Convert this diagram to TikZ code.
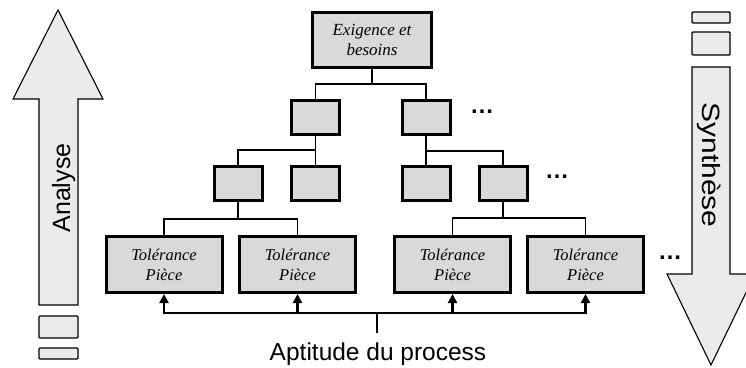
\documentclass[tikz,border=0pt]{standalone}
\usepackage{fontspec}
\setmainfont{Liberation Serif}
\setsansfont{Liberation Sans}
\usepackage{graphicx}
\usetikzlibrary{arrows.meta}
\definecolor{boxfill}{HTML}{D9D9D9}
\definecolor{arrfill}{HTML}{EBEBEB}
\begin{document}
\begin{tikzpicture}[x=1pt,y=-1pt,
  blk/.style={draw=black, fill=boxfill, line width=3pt, inner sep=0pt, minimum width=48pt, minimum height=34pt},
  tol/.style={blk, minimum width=116pt, minimum height=56pt, font=\fontsize{16.5}{20}\selectfont\itshape, align=center, text=black},
  link/.style={line width=1.5pt},
  bus/.style={line width=2.2pt},
  bigarrow/.style={draw=black, fill=arrfill, line width=1.1pt, line join=miter},
  tab/.style={draw=black, fill=arrfill, line width=1.4pt, rounded corners=1pt},
  dots/.style={font=\sffamily\bfseries\fontsize{24}{24}\selectfont, inner sep=0pt}]
\useasboundingbox (0,0) rectangle (746,367);

% big arrows
\draw[bigarrow] (58,10) -- (103,99) -- (78,99) -- (78,305) -- (39,305) -- (39,99) -- (13,99) -- cycle;
\draw[bigarrow] (692,67) -- (730,67) -- (730,274) -- (755,274) -- (711,365) -- (667,274) -- (692,274) -- cycle;
\node[font=\sffamily\fontsize{25}{25}\selectfont, rotate=90, anchor=base, inner sep=0pt] (analyse) at (70,188) {Analyse};
\node[font=\sffamily\fontsize{25}{25}\selectfont, rotate=-90, anchor=base, inner sep=0pt] (synthese) at (702,165) {\scalebox{1.2}[1]{Synthèse}};

% small tabs
\draw[tab] (39,316) rectangle (78,338);
\draw[tab] (39,348) rectangle (78,359);
\draw[tab] (692,12) rectangle (730,23);
\draw[tab] (692,32) rectangle (730,55);

% tree nodes
\node[blk, minimum width=119pt, minimum height=55pt, font=\fontsize{17}{20}\selectfont\itshape, align=center, text=black] (top) at (372,40) {Exigence et\\besoins};
\node[blk] (L2a) at (315.5,117.5) {};
\node[blk] (L2b) at (426,117.5) {};
\node[blk] (L3a) at (238,183) {};
\node[blk] (L3b) at (315.5,183) {};
\node[blk] (L3c) at (426,183) {};
\node[blk] (L3d) at (503,183) {};
\node[tol] (L4a) at (164,264.5) {Tolérance\\Pièce};
\node[tol] (L4b) at (297.5,264.5) {Tolérance\\Pièce};
\node[tol] (L4c) at (452.5,264.5) {Tolérance\\Pièce};
\node[tol] (L4d) at (585.5,264.5) {Tolérance\\Pièce};

% connectors
\draw[link] (top.south) -- (372,84) coordinate (j1);
\draw[link] (L2a.north) |- (j1) -| (L2b.north);
\draw[link] (L2a.south) -- (315.5,150) coordinate (j2);
\draw[link] (L3a.north) |- (j2) -- (L3b.north);
\draw[link] (L2b.south) -- (426,151) coordinate (j3);
\draw[link] (L3c.north) -- (j3) -| (L3d.north);
\draw[link] (L3a.south) -- (238,219) coordinate (j4);
\draw[link] (L4a.north) |- (j4) -| (L4b.north);
\draw[link] (L3d.south) -- (503,218) coordinate (j5);
\draw[link] (L4c.north) |- (j5) -| (L4d.north);

% dots
\node[dots] (d1) at (482,112) {\ldots};
\node[dots] (d2) at (557,177) {\ldots};
\node[dots] (d3) at (670,258) {\ldots};

% process bus
\coordinate (pj) at (377,313);
\coordinate (pb) at (377,333);
\draw[bus] (pb) -- (pj);
\foreach \n in {L4a,L4b,L4c,L4d}
  \draw[bus, -{Triangle[length=9pt,width=9pt]}] (pj) -| (\n.south);
\node[font=\sffamily\fontsize{24.5}{25}\selectfont, anchor=base, inner sep=0pt] (apt) at (378,360) {Aptitude du process};
\end{tikzpicture}
\end{document}
